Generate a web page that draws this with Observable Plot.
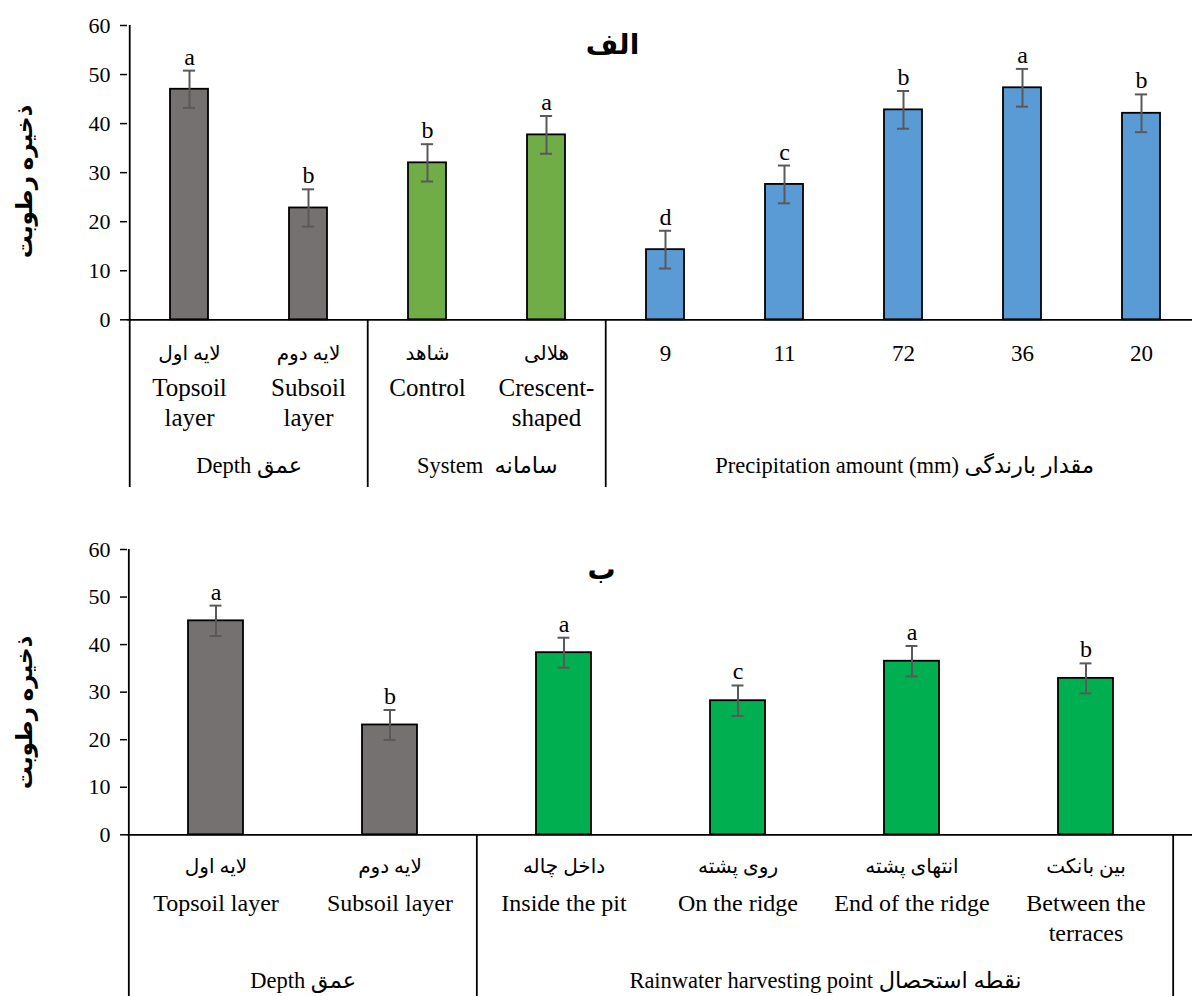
<!DOCTYPE html>
<html>
<head>
<meta charset="utf-8">
<script src="https://cdn.jsdelivr.net/npm/d3@7"></script>
<script src="https://cdn.jsdelivr.net/npm/@observablehq/plot@0.6"></script>
<style>
  html, body { margin: 0; padding: 0; background: #fff; overflow: hidden; }
  #top, #bottom { width: 1192px; }
  svg { display: block; }
</style>
</head>
<body>
<div id="top"></div>
<div id="bottom"></div>
<script>
// ---------------- data: chart "الف" ----------------
const topCategories = ["Topsoil layer", "Subsoil layer", "Control", "Crescent-shaped", "9", "11", "72", "36", "20"];
const topPersianLabels = ["لایه اول", "لایه دوم", "شاهد", "هلالی", "9", "11", "72", "36", "20"];
const topEnglishLabels = ["Topsoil\nlayer", "Subsoil\nlayer", "Control", "Crescent-\nshaped", "", "", "", "", ""];
const topValues = [47.0, 22.8, 32.0, 37.7, 14.3, 27.6, 42.8, 47.3, 42.1];
const topErrors = [3.8, 3.8, 3.8, 3.85, 3.85, 3.85, 3.85, 3.85, 3.85];
const topLetters = ["a", "b", "b", "a", "d", "c", "b", "a", "b"];
const topGroups = ["depth", "depth", "system", "system", "rain", "rain", "rain", "rain", "rain"];
const topGroupNames = ["depth", "system", "rain"];
const topGroupLabels = ["Depth عمق", "System  سامانه", "Precipitation amount (mm) مقدار بارندگی"];
const topTitle = "الف";

// ---------------- data: chart "ب" ----------------
const bottomCategories = ["Topsoil layer", "Subsoil layer", "Inside the pit", "On the ridge", "End of the ridge", "Between the terraces"];
const bottomPersianLabels = ["لایه اول", "لایه دوم", "داخل چاله", "روی پشته", "انتهای پشته", "بین بانکت"];
const bottomEnglishLabels = ["Topsoil layer", "Subsoil layer", "Inside the pit", "On the ridge", "End of the ridge", "Between the\nterraces"];
const bottomValues = [45.0, 23.1, 38.3, 28.2, 36.5, 32.9];
const bottomErrors = [3.2, 3.15, 3.15, 3.2, 3.2, 3.15];
const bottomLetters = ["a", "b", "a", "c", "a", "b"];
const bottomGroups = ["depth", "depth", "point", "point", "point", "point"];
const bottomGroupNames = ["depth", "point"];
const bottomGroupLabels = ["Depth عمق", "Rainwater harvesting point نقطه استحصال"];
const bottomTitle = "ب";

const yTicks = [0, 10, 20, 30, 40, 50, 60];
const yTitle = "ذخیره رطوبت";

// ---------------- styles ----------------
const topColors = {depth: "#767171", system: "#70AD47", rain: "#5B9BD5"};
const bottomColors = {depth: "#767171", point: "#00B050"};
const FONT = "'Liberation Serif', 'Times New Roman', 'DejaVu Sans', serif";
const ERR = "#595959";
const isPersian = s => /[\u0600-\u06FF]/.test(s);

function panel(cfg) {
  const n = cfg.categories.length;
  const step = (cfg.xRight - cfg.xLeft) / n;
  const padInner = 0.684;
  const bandwidth = step * (1 - padInner);
  const capInset = (bandwidth - 12) / 2;
  const rows = cfg.categories.map((c, i) => ({
    cat: c, value: cfg.values[i], err: cfg.errors[i], letter: cfg.letters[i],
    group: cfg.groups[i], row1: cfg.row1[i], row2: cfg.row2[i]
  }));
  const axisDepth = cfg.y0 - cfg.y60;
  const groupInfo = cfg.groupNames.map((g, k) => {
    const idx = cfg.groups.map((gg, i) => gg === g ? i : -1).filter(i => i >= 0);
    return {first: cfg.categories[idx[0]], count: idx.length, label: cfg.groupLabels[k]};
  });

  const marks = [
    Plot.barY(rows, {x: "cat", y: "value", fill: d => cfg.colors[d.group], stroke: "#000", strokeWidth: 1.8}),
    Plot.ruleX(rows, {x: "cat", y1: d => d.value - d.err, y2: d => d.value + d.err, stroke: ERR, strokeWidth: 2}),
    Plot.tickY(rows, {x: "cat", y: d => d.value + d.err, stroke: ERR, strokeWidth: 2, insetLeft: capInset, insetRight: capInset}),
    Plot.tickY(rows, {x: "cat", y: d => d.value - d.err, stroke: ERR, strokeWidth: 2, insetLeft: capInset, insetRight: capInset}),
    Plot.text(rows, {x: "cat", y: d => d.value + d.err, text: "letter", lineAnchor: "bottom", dy: -6, fontSize: 24, fontFamily: FONT, fill: "#000"}),
    Plot.ruleY([0], {stroke: "#000", strokeWidth: 1.8}),
    Plot.axisY({ticks: yTicks, tickSize: 7, tickPadding: 10, fontSize: 22, fontFamily: FONT, stroke: "#000", strokeWidth: 1.5, label: null}),
    // left axis line extending down through the category table
    Plot.ruleX([cfg.categories[0]], {x: d => d, dx: -step / 2, stroke: "#000", strokeWidth: 1.8}),
    // group dividers in the category table
    Plot.ruleX(groupInfo.slice(1), {x: "first", dx: -step / 2, insetTop: axisDepth, stroke: "#000", strokeWidth: 1.8}),
    // category label rows
    Plot.text(rows, {x: "cat", text: "row1", frameAnchor: "bottom", dy: cfg.row1Y - cfg.frameBottom, lineAnchor: "middle", fontSize: d => isPersian(d.row1) ? 20 : 23, fontFamily: FONT, fill: "#000"}),
    Plot.text(rows, {x: "cat", text: "row2", frameAnchor: "bottom", dy: cfg.row2Y - cfg.frameBottom, lineAnchor: "top", lineHeight: cfg.lineHeight, fontSize: cfg.labelSize, fontFamily: FONT, fill: "#000"}),
    // y title
    Plot.text([yTitle], {frameAnchor: "left", textAnchor: "middle", lineAnchor: "middle", rotate: -90, dx: cfg.yTitleX - cfg.xLeft, dy: cfg.yTitleY - (cfg.y60 + cfg.frameBottom) / 2, fontSize: 23, fontWeight: "bold", fontFamily: FONT, fill: "#000"}),
    // panel title
    Plot.text([cfg.title], {frameAnchor: "top", textAnchor: "middle", dx: cfg.titleX - (cfg.xLeft + 1192) / 2, dy: cfg.titleY - cfg.y60, lineAnchor: "middle", fontSize: 28, fontWeight: "bold", fontFamily: FONT, fill: "#000"})
  ];
  if (cfg.rightEdge) {
    marks.push(Plot.ruleX([cfg.categories[n - 1]], {x: d => d, dx: step / 2, insetTop: axisDepth, stroke: "#000", strokeWidth: 1.8}));
  }
  for (const g of groupInfo) {
    marks.push(Plot.text([g], {x: "first", text: "label", dx: step * (g.count - 1) / 2, frameAnchor: "bottom", dy: cfg.groupY - cfg.frameBottom, lineAnchor: "middle", fontSize: 22.5, fontFamily: FONT, fill: "#000"}));
  }

  return Plot.plot({
    width: 1192,
    height: cfg.height,
    marginLeft: cfg.xLeft,
    marginRight: 0,
    marginTop: cfg.y60,
    marginBottom: cfg.height - cfg.frameBottom,
    style: {fontFamily: FONT, fontSize: "20px", background: "#fff", color: "#000", overflow: "visible"},
    x: {type: "band", domain: cfg.categories, range: [cfg.xLeft, cfg.xRight], paddingInner: padInner, paddingOuter: padInner / 2, align: 0.5, axis: null},
    y: {domain: [0, 60], range: [cfg.y0, cfg.y60], axis: null},
    color: {type: "identity"},
    marks
  });
}

document.getElementById("top").append(panel({
  categories: topCategories, values: topValues, errors: topErrors, letters: topLetters,
  groups: topGroups, groupNames: topGroupNames, groupLabels: topGroupLabels,
  row1: topPersianLabels, row2: topEnglishLabels, colors: topColors, title: topTitle,
  height: 500, y0: 319.3, y60: 25, frameBottom: 487, xLeft: 127, xRight: 1203,
  row1Y: 353, row2Y: 374, groupY: 465, labelSize: 25, lineHeight: 1.2,
  yTitleX: 24, yTitleY: 181, titleX: 612, titleY: 45, rightEdge: false
}));

document.getElementById("bottom").append(panel({
  categories: bottomCategories, values: bottomValues, errors: bottomErrors, letters: bottomLetters,
  groups: bottomGroups, groupNames: bottomGroupNames, groupLabels: bottomGroupLabels,
  row1: bottomPersianLabels, row2: bottomEnglishLabels, colors: bottomColors, title: bottomTitle,
  height: 496, y0: 334.3, y60: 49, frameBottom: 496, xLeft: 127, xRight: 1173,
  row1Y: 366, row2Y: 389, groupY: 480, labelSize: 24, lineHeight: 1.25,
  yTitleX: 24, yTitleY: 212, titleX: 601, titleY: 70, rightEdge: true
}));
</script>
</body>
</html>
